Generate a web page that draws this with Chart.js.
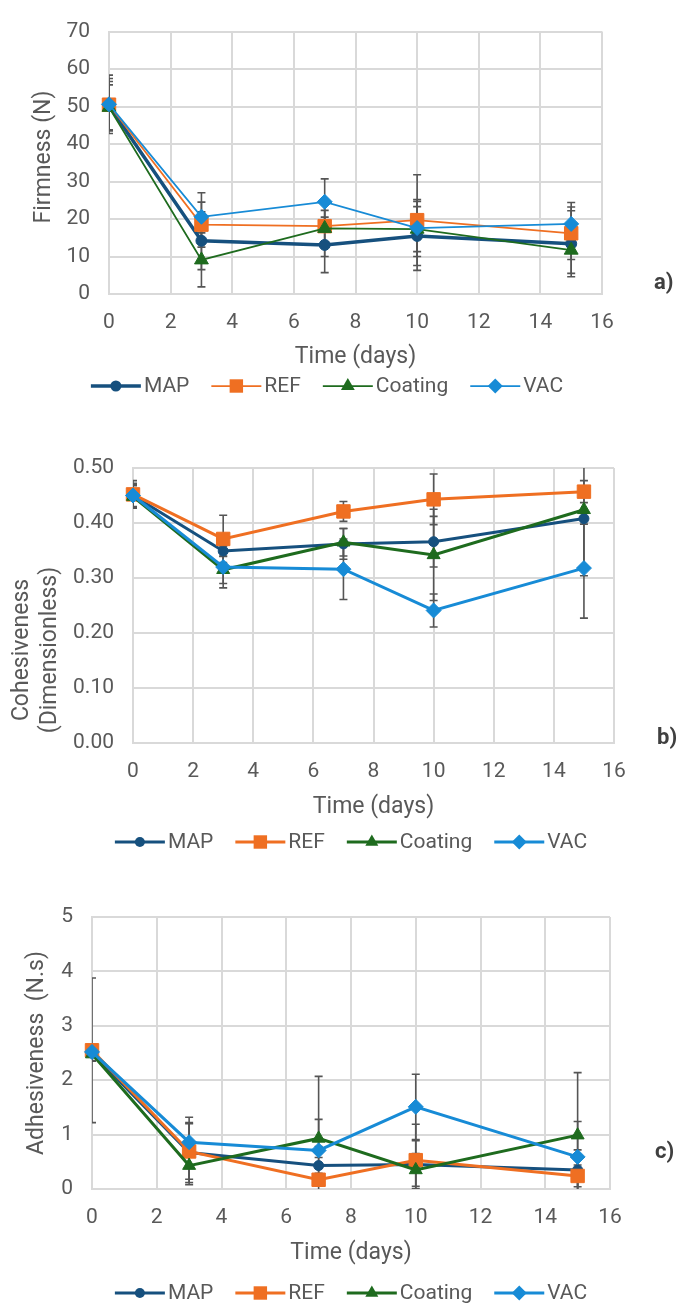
<!DOCTYPE html>
<html lang="en">
<head>
<meta charset="UTF-8">
<title>Firmness, cohesiveness and adhesiveness over storage time</title>
<style>
  body { margin: 0; background: #fff; }
  #wrap { position: relative; width: 678px; height: 1305px; overflow: hidden; }
  canvas { position: absolute; left: 0; }
</style>
</head>
<body>
<div id="wrap">
  <canvas id="chartA" width="678" height="420" style="top:0"></canvas>
  <canvas id="chartB" width="678" height="450" style="top:420px"></canvas>
  <canvas id="chartC" width="678" height="435" style="top:870px"></canvas>
</div>
<script src="https://cdn.jsdelivr.net/npm/chart.js"></script>
<script>
const days = [0, 3, 7, 10, 15];
const seriesNames = ['MAP', 'REF', 'Coating', 'VAC'];
const seriesColors = ['#16507e', '#ef6f22', '#1e6b1e', '#178bd6'];
const seriesMarkers = ['circle', 'rect', 'triangle', 'rectRot'];

// a) Firmness (N)
const firmMAP     = [50.2, 14.2, 13.1, 15.5, 13.4];
const firmREF     = [50.5, 18.5, 18.1, 19.7, 16.2];
const firmCoating = [49.8,  9.1, 17.5, 17.3, 11.7];
const firmVAC     = [50.6, 20.6, 24.6, 17.6, 18.7];
const firmMAPErr     = [6.5, 7.7, 7.4, 9.2, 8.8];
const firmREFErr     = [7.0, 6.0, 4.2, 12.1, 7.0];
const firmCoatingErr = [6.0, 7.2, 7.5, 6.0, 6.2];
const firmVACErr     = [7.8, 6.4, 6.1, 7.6, 5.7];

// b) Cohesiveness (dimensionless)
const cohMAP     = [0.450, 0.349, 0.362, 0.366, 0.408];
const cohREF     = [0.452, 0.371, 0.421, 0.443, 0.457];
const cohCoating = [0.448, 0.315, 0.365, 0.342, 0.424];
const cohVAC     = [0.450, 0.320, 0.316, 0.241, 0.318];
const cohMAPErr     = [0.020, 0.010, 0.028, 0.046, 0.010];
const cohREFErr     = [0.025, 0.043, 0.018, 0.046, 0.020];
const cohCoatingErr = [0.020, 0.025, 0.025, 0.083, 0.120];
const cohVACErr     = [0.022, 0.038, 0.055, 0.030, 0.091];

// c) Adhesiveness (N.s)
const adhMAP     = [2.50, 0.67, 0.43, 0.45, 0.35];
const adhREF     = [2.55, 0.69, 0.17, 0.53, 0.24];
const adhCoating = [2.48, 0.43, 0.93, 0.35, 0.99];
const adhVAC     = [2.52, 0.86, 0.71, 1.51, 0.59];
const adhMAPErr     = [0.15, 0.55, 0.35, 0.44, 0.37];
const adhREFErr     = [1.33, 0.51, 0.12, 0.66, 0.20];
const adhCoatingErr = [0.12, 0.35, 0.35, 0.30, 1.15];
const adhVACErr     = [0.10, 0.46, 1.36, 0.60, 0.65];

const FONT = 'Roboto, "Liberation Sans", sans-serif';
const TEXT = '#595959';
const GRID = '#d9d9d9';
const TICK_SIZE = 21;
const TITLE_SIZE = 23;

function toPoints(vals) {
  return days.map((d, i) => ({ x: d, y: vals[i] }));
}

// vertical error bars, clipped to the plot area like Excel does
const errorBars = {
  id: 'errorBars',
  beforeDatasetsDraw(chart) {
    const { ctx, chartArea: a, scales: { x, y } } = chart;
    ctx.save();
    ctx.beginPath();
    ctx.rect(a.left, a.top, a.right - a.left, a.bottom - a.top);
    ctx.clip();
    ctx.strokeStyle = '#555555';
    ctx.lineWidth = 1.6;
    chart.data.datasets.forEach(ds => {
      ds.errors.forEach((e, i) => {
        const px = x.getPixelForValue(ds.data[i].x);
        const hi = y.getPixelForValue(ds.data[i].y + e);
        const lo = y.getPixelForValue(ds.data[i].y - e);
        ctx.beginPath();
        ctx.moveTo(px, hi); ctx.lineTo(px, lo);
        ctx.moveTo(px - 4, hi); ctx.lineTo(px + 4, hi);
        ctx.moveTo(px - 4, lo); ctx.lineTo(px + 4, lo);
        ctx.stroke();
      });
    });
    ctx.restore();
  }
};

function drawMarker(ctx, style, r, x, y) {
  ctx.beginPath();
  if (style === 'circle') {
    ctx.arc(x, y, r, 0, Math.PI * 2);
  } else if (style === 'rect') {
    const s = r * Math.SQRT1_2;
    ctx.rect(x - s, y - s, 2 * s, 2 * s);
  } else if (style === 'triangle') {
    ctx.moveTo(x, y - r);
    ctx.lineTo(x + r * 0.866, y + r * 0.5);
    ctx.lineTo(x - r * 0.866, y + r * 0.5);
    ctx.closePath();
  } else {
    ctx.moveTo(x, y - r); ctx.lineTo(x + r, y);
    ctx.lineTo(x, y + r); ctx.lineTo(x - r, y);
    ctx.closePath();
  }
  ctx.fill();
}

// y title, legend under the chart and the panel letter
const extras = {
  id: 'extras',
  afterDraw(chart, args, o) {
    const ctx = chart.ctx;
    ctx.save();
    ctx.fillStyle = TEXT;
    ctx.font = `${TITLE_SIZE}px ${FONT}`;
    ctx.textAlign = 'center';
    ctx.textBaseline = 'middle';
    o.yTitle.forEach((line, i) => {
      ctx.save();
      ctx.translate(o.yTitleX[i], o.yTitleY);
      ctx.rotate(-Math.PI / 2);
      ctx.fillText(line, 0, 0);
      ctx.restore();
    });

    ctx.font = `${TICK_SIZE}px ${FONT}`;
    ctx.textAlign = 'left';
    const dss = chart.data.datasets;
    const widths = dss.map(ds => ctx.measureText(ds.label).width);
    const total = widths.reduce((s, w) => s + 50 + 3 + w, 0) + 22 * (dss.length - 1);
    let x = o.legendX - total / 2;
    const y = o.legendY;
    dss.forEach((ds, i) => {
      ctx.strokeStyle = ds.borderColor;
      ctx.lineWidth = ds.borderWidth;
      ctx.beginPath();
      ctx.moveTo(x, y); ctx.lineTo(x + 50, y);
      ctx.stroke();
      ctx.fillStyle = ds.backgroundColor;
      drawMarker(ctx, ds.pointStyle, ds.pointRadius, x + 25, y);
      ctx.fillStyle = TEXT;
      ctx.fillText(ds.label, x + 53, y + 1);
      x += 50 + 3 + widths[i] + 22;
    });

    ctx.font = `bold 22px ${FONT}`;
    ctx.fillStyle = '#404040';
    ctx.fillText(o.panel, o.panelX, o.panelY);
    ctx.restore();
  }
};

function makeChart(id, cfg) {
  const H = cfg.height;
  const titleLH = TITLE_SIZE * 1.2;
  return new Chart(document.getElementById(id), {
    type: 'line',
    data: {
      datasets: cfg.series.map((vals, k) => ({
        label: seriesNames[k],
        data: toPoints(vals),
        errors: cfg.errors[k],
        borderColor: seriesColors[k],
        backgroundColor: seriesColors[k],
        borderWidth: cfg.lineWidths[k],
        pointStyle: seriesMarkers[k],
        pointRadius: cfg.markerSizes[k],
        pointBorderWidth: 1,
        order: 4 - k,
        clip: false,
        tension: 0
      }))
    },
    options: {
      responsive: false,
      animation: false,
      devicePixelRatio: 1,
      layout: { padding: { top: cfg.plotTop, right: 678 - cfg.plotRight, left: 0, bottom: 0 } },
      plugins: {
        legend: { display: false },
        tooltip: { enabled: false },
        extras: cfg.extras
      },
      scales: {
        x: {
          type: 'linear', min: 0, max: 16,
          ticks: { stepSize: 2, padding: 16, color: TEXT, font: { family: FONT, size: TICK_SIZE } },
          grid: { color: GRID, lineWidth: 2, drawTicks: false },
          border: { color: GRID, width: 2 },
          title: {
            display: true, text: 'Time (days)', color: TEXT,
            font: { family: FONT, size: TITLE_SIZE },
            padding: { top: 0, bottom: H - cfg.xTitleY - titleLH / 2 }
          },
          afterFit: s => { s.height = H - cfg.plotBottom; }
        },
        y: {
          min: 0, max: cfg.yMax,
          ticks: { stepSize: cfg.yStep, padding: 19, color: TEXT, font: { family: FONT, size: TICK_SIZE }, callback: cfg.yFormat },
          grid: { color: GRID, lineWidth: 2, drawTicks: false },
          border: { color: GRID, width: 2 },
          afterFit: s => { s.width = cfg.plotLeft; }
        }
      }
    },
    plugins: [errorBars, extras]
  });
}

makeChart('chartA', {
  height: 420, plotTop: 20, plotBottom: 294, plotLeft: 109, plotRight: 602, xTitleY: 357,
  yMax: 70, yStep: 10, yFormat: v => v,
  series: [firmMAP, firmREF, firmCoating, firmVAC],
  errors: [firmMAPErr, firmREFErr, firmCoatingErr, firmVACErr],
  lineWidths: [3.5, 1.75, 1.75, 1.75],
  markerSizes: [5.5, 9.5, 8, 7.5],
  extras: { yTitle: ['Firmness (N)'], yTitleX: [44], yTitleY: 157, legendX: 327, legendY: 386,
            panel: 'a)', panelX: 654, panelY: 283 }
});

makeChart('chartB', {
  height: 450, plotTop: 48, plotBottom: 323, plotLeft: 133, plotRight: 614, xTitleY: 387,
  yMax: 0.5, yStep: 0.1, yFormat: v => v.toFixed(2),
  series: [cohMAP, cohREF, cohCoating, cohVAC],
  errors: [cohMAPErr, cohREFErr, cohCoatingErr, cohVACErr],
  lineWidths: [3, 3, 3, 3],
  markerSizes: [5, 9.5, 7.5, 7.5],
  extras: { yTitle: ['Cohesiveness', '(Dimensionless)'], yTitleX: [22, 50], yTitleY: 230, legendX: 351, legendY: 422,
            panel: 'b)', panelX: 657, panelY: 318 }
});

makeChart('chartC', {
  height: 435, plotTop: 47, plotBottom: 319, plotLeft: 92, plotRight: 610, xTitleY: 383,
  yMax: 5, yStep: 1, yFormat: v => v,
  series: [adhMAP, adhREF, adhCoating, adhVAC],
  errors: [adhMAPErr, adhREFErr, adhCoatingErr, adhVACErr],
  lineWidths: [3, 3, 3, 3],
  markerSizes: [5, 9.5, 7.5, 7.5],
  extras: { yTitle: ['Adhesiveness  (N.s)'], yTitleX: [37], yTitleY: 183, legendX: 351, legendY: 423,
            panel: 'c)', panelX: 655, panelY: 282 }
});
</script>
</body>
</html>
